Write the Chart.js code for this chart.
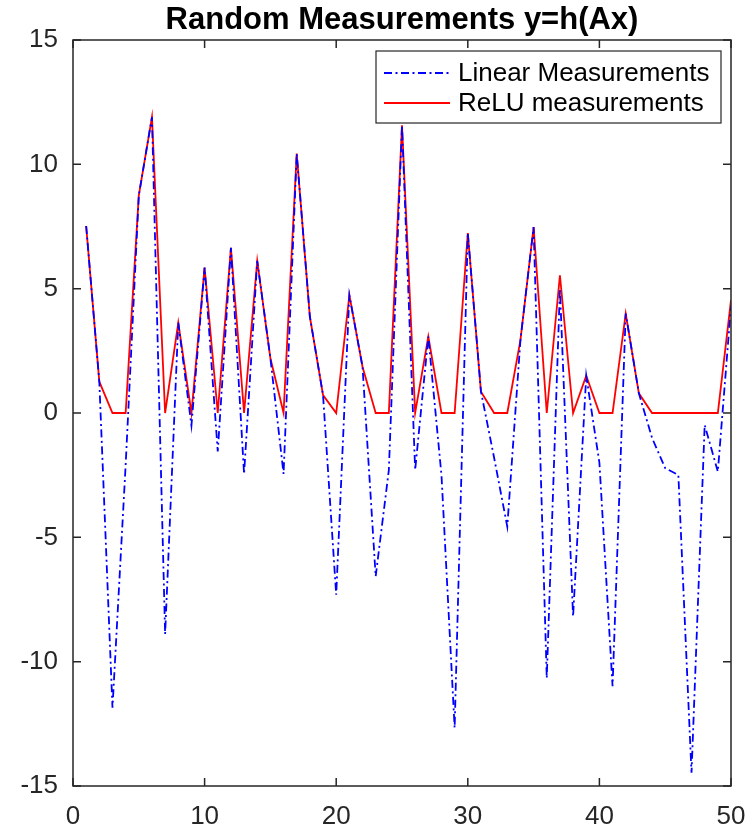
<!DOCTYPE html>
<html>
<head>
<meta charset="utf-8">
<script src="https://cdn.jsdelivr.net/npm/chart.js@4.4.1/dist/chart.umd.min.js"></script>
<style>
  body { margin: 0; background: #fff; }
  canvas { display: block; }
</style>
</head>
<body>
<canvas id="measChart" width="753" height="833"></canvas>
<script>
// sample index
const xIndex = [1, 2, 3, 4, 5, 6, 7, 8, 9, 10, 11, 12, 13, 14, 15, 16, 17, 18, 19, 20,
  21, 22, 23, 24, 25, 26, 27, 28, 29, 30, 31, 32, 33, 34, 35, 36, 37, 38, 39, 40,
  41, 42, 43, 44, 45, 46, 47, 48, 49, 50];

// y = Ax
const linearValues = [7.52, 1.26, -11.85, -2.1, 8.75, 11.9, -8.9, 3.63, -0.5, 5.85,
  -1.55, 6.64, -2.45, 6.12, 2.2, -2.45, 10.43, 3.87, 0.72, -7.31,
  4.74, 1.86, -6.57, -2.3, 11.57, -2.29, 3.07, -2.5, -12.66, 7.24,
  0.86, -1.8, -4.57, 2.93, 7.48, -10.66, 5.0, -8.18, 1.5, -2.0,
  -10.99, 4.0, 0.79, -1.0, -2.22, -2.49, -14.47, -0.48, -2.36, 4.3];

// y = h(Ax)
const reluValues = [7.52, 1.26, 0, 0, 8.75, 11.9, 0, 3.63, 0, 5.85,
  0, 6.64, 0, 6.12, 2.2, 0, 10.43, 3.87, 0.72, 0,
  4.74, 1.86, 0, 0, 11.57, 0, 3.07, 0, 0, 7.24,
  0.86, 0, 0, 2.93, 7.48, 0, 5.54, 0, 1.5, 0,
  0, 4.0, 0.79, 0, 0, 0, 0, 0, 0, 4.54];

const yTicks = [-15, -10, -5, 0, 5, 10, 15];
const xTicks = [0, 10, 20, 30, 40, 50];

const titleText = "Random Measurements y=h(Ax)";
const seriesNames = ["Linear Measurements", "ReLU measurements"];

const axisColor = "#262626";
const fontFamily = "'Liberation Sans', Arial, Helvetica, sans-serif";
const blueDash = [8, 3.5, 2, 3.5];

function toPoints(values) {
  return values.map((v, i) => ({ x: xIndex[i], y: v }));
}

// box, inward ticks, title and legend like the matlab figure
const matlabFrame = {
  id: "matlabFrame",
  afterDraw(chart) {
    const c = chart.ctx;
    const area = chart.chartArea;
    const xs = chart.scales.x;
    const ys = chart.scales.y;
    const tickLen = 8;

    c.save();
    c.strokeStyle = axisColor;
    c.lineWidth = 1.5;
    c.strokeRect(area.left, area.top, area.right - area.left, area.bottom - area.top);

    c.beginPath();
    xTicks.forEach(t => {
      const px = xs.getPixelForValue(t);
      c.moveTo(px, area.bottom);
      c.lineTo(px, area.bottom - tickLen);
      c.moveTo(px, area.top);
      c.lineTo(px, area.top + tickLen);
    });
    yTicks.forEach(t => {
      const py = ys.getPixelForValue(t);
      c.moveTo(area.left, py);
      c.lineTo(area.left + tickLen, py);
      c.moveTo(area.right, py);
      c.lineTo(area.right - tickLen, py);
    });
    c.stroke();

    // title
    c.fillStyle = "#000";
    c.font = "bold 31px " + fontFamily;
    c.textAlign = "center";
    c.textBaseline = "alphabetic";
    c.fillText(titleText, (area.left + area.right) / 2, 29);

    // legend box
    const lx = 376, ly = 51, lw = 345, lh = 72;
    c.fillStyle = "#fff";
    c.fillRect(lx, ly, lw, lh);
    c.strokeStyle = axisColor;
    c.lineWidth = 1.2;
    c.strokeRect(lx, ly, lw, lh);

    const rows = [ly + 22, ly + 52];
    chart.data.datasets.forEach((ds, i) => {
      c.beginPath();
      c.strokeStyle = ds.borderColor;
      c.lineWidth = ds.borderWidth;
      c.setLineDash(ds.borderDash || []);
      c.moveTo(lx + 8, rows[i]);
      c.lineTo(lx + 74, rows[i]);
      c.stroke();
      c.setLineDash([]);
      c.fillStyle = "#000";
      c.font = "26px " + fontFamily;
      c.textAlign = "left";
      c.textBaseline = "middle";
      c.fillText(ds.label, lx + 82, rows[i] + 1);
    });
    c.restore();
  }
};

new Chart(document.getElementById("measChart"), {
  type: "line",
  data: {
    datasets: [
      {
        label: seriesNames[0],
        data: toPoints(linearValues),
        borderColor: "rgb(0,0,255)",
        borderWidth: 1.8,
        borderDash: blueDash,
        pointRadius: 0,
        tension: 0,
        fill: false
      },
      {
        label: seriesNames[1],
        data: toPoints(reluValues),
        borderColor: "rgb(255,0,0)",
        borderWidth: 1.8,
        pointRadius: 0,
        tension: 0,
        fill: false
      }
    ]
  },
  options: {
    responsive: false,
    animation: false,
    layout: { padding: { top: 40, right: 22, left: 0, bottom: 0 } },
    plugins: {
      legend: { display: false },
      title: { display: false },
      tooltip: { enabled: false }
    },
    scales: {
      x: {
        type: "linear",
        min: 0,
        max: 50,
        afterBuildTicks: s => { s.ticks = xTicks.map(v => ({ value: v })); },
        afterFit: s => {
          s.height = 47;
          s.paddingLeft = 0;
          s.paddingRight = 0;
        },
        grid: { display: false, drawTicks: false },
        border: { display: false },
        ticks: {
          color: axisColor,
          padding: 15,
          maxRotation: 0,
          font: { size: 26, family: fontFamily }
        }
      },
      y: {
        type: "linear",
        min: -15,
        max: 15,
        afterBuildTicks: s => { s.ticks = yTicks.map(v => ({ value: v })); },
        afterFit: s => { s.width = 73; },
        grid: { display: false, drawTicks: false },
        border: { display: false },
        ticks: {
          color: axisColor,
          padding: 15,
          font: { size: 26, family: fontFamily }
        }
      }
    }
  },
  plugins: [matlabFrame]
});
</script>
</body>
</html>
